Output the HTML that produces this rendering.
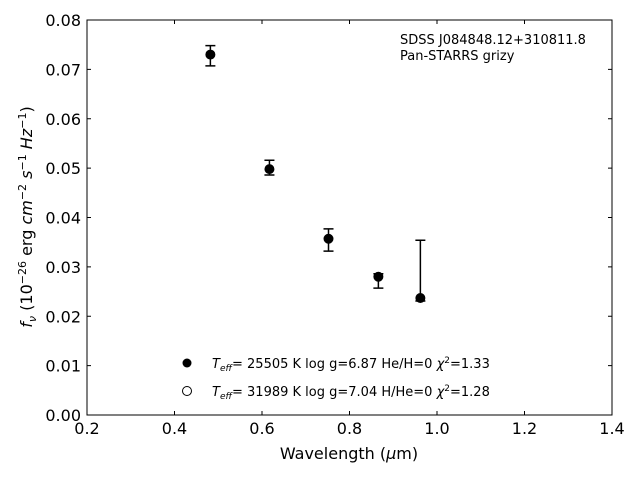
<!DOCTYPE html>
<html><head><meta charset="utf-8"><style>
body{margin:0;background:#fff}
svg text{font-family:"DejaVu Sans","Liberation Sans",sans-serif;fill:#000}
</style></head><body>
<svg id="c" width="640" height="480" xmlns="http://www.w3.org/2000/svg">
<rect x="87" y="20" width="525" height="395" fill="none" stroke="#000" stroke-width="1"/>
<g id="ticks"></g>
<g id="marks"></g>
<text x="349" y="459" font-size="16" text-anchor="middle">Wavelength (<tspan font-style="italic">μ</tspan>m)</text>
<text transform="translate(32,217) rotate(-90)" font-size="16" text-anchor="middle"><tspan font-style="italic">f<tspan font-size="11" dy="4">ν</tspan></tspan><tspan dy="-4"> (10</tspan><tspan font-size="11" dy="-6">−26</tspan><tspan dy="6"> erg </tspan><tspan font-style="italic">cm</tspan><tspan font-size="11" dy="-6">−2</tspan><tspan dy="6"> </tspan><tspan font-style="italic">s</tspan><tspan font-size="11" dy="-6">−1</tspan><tspan dy="6"> </tspan><tspan font-style="italic">Hz</tspan><tspan font-size="11" dy="-6">−1</tspan><tspan dy="6">)</tspan></text>
<text x="400" y="44" font-size="13">SDSS J084848.12+310811.8</text>
<text x="400" y="60" font-size="13">Pan-STARRS grizy</text>
<g>
<circle cx="187" cy="363" r="4.5" fill="#000"/>
<text x="212" y="368" font-size="13"><tspan font-style="italic">T</tspan><tspan font-style="italic" font-size="9" dy="3">eff</tspan><tspan dy="-3">= 25505 K  log g=6.87  He/H=0  </tspan><tspan font-style="italic">χ</tspan><tspan font-size="9" dy="-5">2</tspan><tspan dy="5">=1.33</tspan></text>
<circle cx="187" cy="391" r="4.5" fill="#fff" stroke="#000"/>
<text x="212" y="396" font-size="13"><tspan font-style="italic">T</tspan><tspan font-style="italic" font-size="9" dy="3">eff</tspan><tspan dy="-3">= 31989 K  log g=7.04  H/He=0  </tspan><tspan font-style="italic">χ</tspan><tspan font-size="9" dy="-5">2</tspan><tspan dy="5">=1.28</tspan></text>
</g>
</svg>
<script>
const wavelengths=[0.482,0.617,0.752,0.866,0.962];
const fluxObs=[0.0730,0.0498,0.0357,0.0280,0.0237];
const errLow=[0.0707,0.0486,0.0332,0.0257,0.0231];
const errHigh=[0.0748,0.0516,0.0377,0.0286,0.0354];
const modelHe=[0.0730,0.0498,0.0357,0.0280,0.0237];
const xTicks=[0.2,0.4,0.6,0.8,1.0,1.2,1.4];
const xTickLabels=["0.2","0.4","0.6","0.8","1.0","1.2","1.4"];
const yTicks=[0,0.01,0.02,0.03,0.04,0.05,0.06,0.07,0.08];
const yTickLabels=["0.00","0.01","0.02","0.03","0.04","0.05","0.06","0.07","0.08"];
const NS="http://www.w3.org/2000/svg";
const X=v=>87+(v-0.2)/1.2*525;
const Y=v=>415-v/0.08*395;
function mk(tag,attrs,parent){const e=document.createElementNS(NS,tag);for(const k in attrs)e.setAttribute(k,attrs[k]);parent.appendChild(e);return e;}
const T=document.getElementById('ticks'),M=document.getElementById('marks');
xTicks.forEach((v,i)=>{
 const x=X(v);
 let l=mk('line',{x1:x,x2:x,y1:415,y2:411,stroke:'#000'},T);
 
 
 let l2=mk('line',{x1:x,x2:x,y1:20,y2:24,stroke:'#000'},T);
 
 
 let t=mk('text',{x:x,y:434,'font-size':16,'text-anchor':'middle'},T);t.textContent=xTickLabels[i];
 
 
});
yTicks.forEach((v,i)=>{
 const y=Y(v);
 let l=mk('line',{x1:87,x2:91,y1:y,y2:y,stroke:'#000'},T);
 
 
 let l2=mk('line',{x1:608,x2:612,y1:y,y2:y,stroke:'#000'},T);
 
 
 let t=mk('text',{x:81,y:y+6,'font-size':16,'text-anchor':'end'},T);t.textContent=yTickLabels[i];
 
 
});
wavelengths.forEach((w,i)=>{
 const x=X(w);
 let o=mk('circle',{cx:x,cy:Y(modelHe[i]),r:4.5,fill:'#fff',stroke:'#000'},M);
 
 
 let e=mk('path',{d:`M${x},${Y(errLow[i])}V${Y(errHigh[i])}M${x-5},${Y(errLow[i])}h10M${x-5},${Y(errHigh[i])}h10`,stroke:'#000','stroke-width':1.5,fill:'none'},M);
 
 
 let c=mk('circle',{cx:x,cy:Y(fluxObs[i]),r:4.5,fill:'#000'},M);
 
 
});
</script>
</body></html>
